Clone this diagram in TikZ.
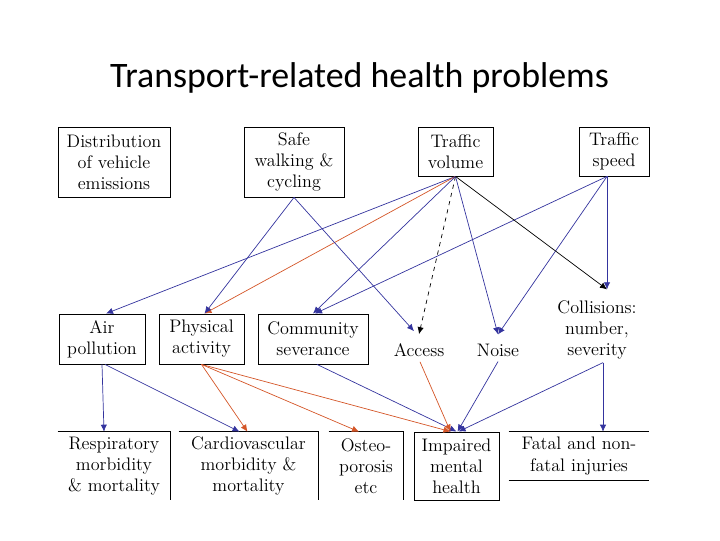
\documentclass[tikz,border=0pt]{standalone}
\usepackage{fontspec}
\usepackage{tikz}
\usetikzlibrary{arrows.meta, positioning, calc}
\newfontfamily\titlefont{Carlito}
\definecolor{LinkBlue}{RGB}{52,52,158}
\definecolor{LinkOrange}{RGB}{212,86,40}

\begin{document}
\begin{tikzpicture}[x=0.025cm,y=-0.025cm,
        box/.style={draw,line width=0.6pt,align=center,inner sep=0pt,
                    font=\fontsize{12.9}{15}\selectfont},
        plain/.style={align=center,inner sep=0pt,
                      font=\fontsize{12.9}{15}\selectfont},
        link/.style={line width=0.5pt,-{Latex[length=5pt,width=4.5pt]}},
        bluelink/.style={link,color=LinkBlue},
        orangelink/.style={link,color=LinkOrange},
        blacklink/.style={link,color=black}
      ]
        \useasboundingbox (0,0) rectangle (720,540);
        \node[font=\titlefont\fontsize{25.5}{30}\selectfont,anchor=base]
          (title) at (359.5,87) {Transport-related health problems};
        % causes
        \node[box,minimum width=2.8cm,minimum height=1.75cm] (dist) at (114,162)
          {Distribution\\of vehicle\\emissions};
        \node[box,minimum width=2.5cm,minimum height=1.75cm] (safe) at (294,162)
          {Safe\\walking \&\\cycling};
        \node[box,minimum width=1.875cm,minimum height=1.225cm] (vol) at (455.5,151.5)
          {Traffic\\volume};
        \node[box,minimum width=1.75cm,minimum height=1.225cm] (speed) at (614,151.5)
          {Traffic\\speed};
        % intermediate
        \node[box,minimum width=2.15cm,minimum height=1.25cm] (air) at (102,339)
          {Air\\pollution};
        \node[box,minimum width=2.125cm,minimum height=1.25cm] (phys) at (201.5,339)
          {Physical\\activity};
        \node[box,minimum width=2.75cm,minimum height=1.25cm] (comm) at (313,339)
          {Community\\severance};
        \node[plain] (access) at (419,350) {Access};
        \node[plain] (noise) at (498,350) {Noise};
        \node[plain] (coll) at (597,330) {Collisions:\\number,\\severity};
        % outcomes
        \node[plain,minimum width=2.8cm,minimum height=1.7cm] (resp) at (114,466)
          {Respiratory\\morbidity\\\& mortality};
        \node[plain,minimum width=3.475cm,minimum height=1.7cm] (cardio) at (248.5,466)
          {Cardiovascular\\morbidity \&\\mortality};
        \node[plain,minimum width=1.85cm,minimum height=1.7cm] (osteo) at (366,466)
          {Osteo-\\porosis\\etc};
        \node[box,minimum width=2.125cm,minimum height=1.7cm] (mental) at (456.5,466)
          {Impaired\\mental\\health};
        \node[plain,minimum width=3.5cm,minimum height=1.2cm] (fatal) at (579,456)
          {Fatal and non-\\fatal injuries};
        \draw[line width=0.6pt] (resp.north west) -- (resp.north east) -- (resp.south east);
        \draw[line width=0.6pt] (cardio.north west) -- (cardio.north east) -- (cardio.south east);
        \draw[line width=0.6pt] (osteo.north west) -- (osteo.north east) -- (osteo.south east);
        \draw[line width=0.6pt] (fatal.north west) -- (fatal.north east);
        \draw[line width=0.6pt] (fatal.south west) -- (fatal.south east);
        % shifted ends
        \coordinate (speedout) at ($(speed.south)+(-7,0)$);
        \coordinate (collin) at ($(coll.north)+(10,-11)$);
        \coordinate (collout) at ($(coll.south)+(6,3)$);
        \coordinate (accin) at ($(access.north)+(0,-9)$);
        \coordinate (noisein) at ($(noise.north)+(0,-9)$);
        \coordinate (accout) at ($(access.south)+(1,5)$);
        \coordinate (noiseout) at ($(noise.south)+(0,5)$);
        % upper links
        \draw[bluelink] (vol.south) -- ($(air.north)+(4,0)$);
        \draw[orangelink] (vol.south) -- ($(phys.north)+(3,0)$);
        \draw[bluelink] (safe.south) -- ($(phys.north)+(3,0)$);
        \draw[bluelink] (safe.south) -- ($(accin)+(-5,-3)$);
        \draw[bluelink] (vol.south) -- (comm.north);
        \draw[bluelink] (speedout) -- ($(comm.north)+(2,0)$);
        \draw[blacklink,dashed] (vol.south) -- (accin);
        \draw[bluelink] (vol.south) -- (noisein);
        \draw[bluelink] (speedout) -- (noisein);
        \draw[blacklink] (vol.south) -- (collin);
        \draw[bluelink] (speedout) -- (speedout |- collin);
        % lower links
        \draw[bluelink] (air.south) -- ($(resp.north)+(-10,0)$);
        \draw[bluelink] ($(air.south)+(3,0)$) -- ($(cardio.north)+(-9,0)$);
        \draw[orangelink] (phys.south) -- ($(cardio.north)+(-1,0)$);
        \draw[orangelink] (phys.south) -- ($(osteo.north)+(-7,0)$);
        \draw[orangelink] (phys.south) -- ($(mental.north)+(-6,0)$);
        \draw[bluelink] ($(comm.south)+(4,0)$) -- (mental.north);
        \draw[orangelink] (accout) -- ($(mental.north)+(-6,0)$);
        \draw[bluelink] (noiseout) -- ($(mental.north)+(1,0)$);
        \draw[bluelink] (collout) -- ($(mental.north)+(2,0)$);
        \draw[bluelink] (collout) -- (collout |- fatal.north);
      \end{tikzpicture}
\end{document}
